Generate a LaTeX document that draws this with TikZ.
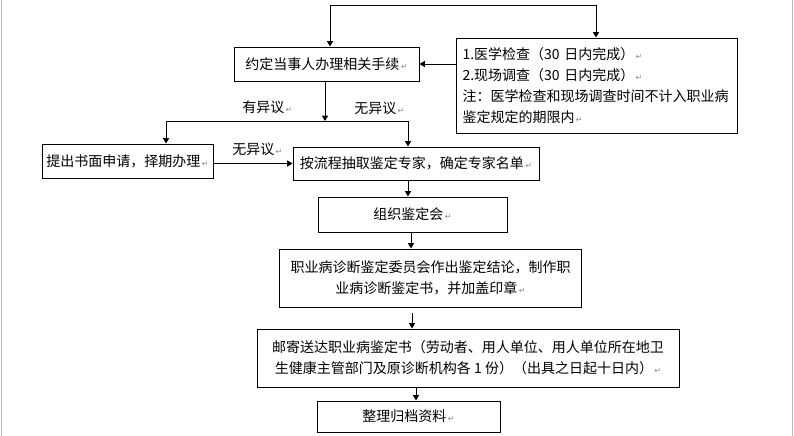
\documentclass[tikz,border=0pt]{standalone}
\usepackage{fontspec}
\setmainfont{Noto Sans CJK SC}
\newfontfamily\dvfont{DejaVu Sans}
\usetikzlibrary{arrows.meta}
\newcommand\parmark{{\dvfont\color{black!45}\fontsize{6pt}{6pt}\selectfont\,↵}}
\begin{document}
\begin{tikzpicture}[x=0.75pt,y=-0.75pt,
  box/.style={draw,line width=0.75pt,inner sep=2pt,align=center,
    font=\fontsize{10.5pt}{15.75pt}\selectfont},
  lbl/.style={inner sep=0pt,anchor=west,font=\fontsize{10.5pt}{12pt}\selectfont},
  arr/.style={line width=0.75pt,-{Triangle[length=4pt,width=4.5pt]}},
  arrb/.style={line width=0.75pt,{Triangle[length=4pt,width=4.5pt]}-{Triangle[length=4pt,width=4.5pt]}},
  ln/.style={line width=0.75pt}]
\fill[white] (0,0) rectangle (794,436);
\useasboundingbox (0,0) rectangle (794,436);
\draw[black!25,line width=0.75pt] (1,0) -- (1,436);
\draw[black!25,line width=0.75pt] (792,0) -- (792,436);

\node[box,minimum width=138.75pt,minimum height=25.5pt] (A) at (326.5,64) {约定当事人办理相关手续\parmark};
\node[box,minimum width=210.75pt,minimum height=71.25pt,text width=201pt,align=left] (R) at (596.5,85.5)
  {1.医学检查（30 日内完成）\parmark\\2.现场调查（30 日内完成）\parmark\\注：医学检查和现场调查时间不计入职业病\\鉴定规定的期限内\parmark};
\node[box,minimum width=128.25pt,minimum height=25.5pt] (B) at (127.5,161) {提出书面申请，择期办理\parmark};
\node[box,minimum width=184.5pt,minimum height=24.75pt] (C) at (416,163.5) {按流程抽取鉴定专家，确定专家名单\parmark};
\node[box,minimum width=141.75pt,minimum height=26.25pt] (D) at (412.5,214.5) {组织鉴定会\parmark};
\node[box,minimum width=226.5pt,minimum height=43.5pt] (E) at (430.5,278)
  {职业病诊断鉴定委员会作出鉴定结论，制作职\\业病诊断鉴定书，并加盖印章\parmark};
\node[box,minimum width=316.5pt,minimum height=43.5pt] (F) at (468,358)
  {邮寄送达职业病鉴定书（劳动者、用人单位、用人单位所在地卫\\生健康主管部门及原诊断机构各 1 份）（出具之日起十日内）\parmark};
\node[box,minimum width=137.25pt,minimum height=23.25pt] (G) at (408.5,416.5) {整理归档资料\parmark};

\node[lbl] (l1) at (242,107) {有异议\parmark};
\node[lbl] (l2) at (354,108) {无异议\parmark};
\node[lbl] (l3) at (232,149) {无异议\parmark};

\coordinate (tl) at (330,5);
\coordinate (tr) at (596,5);
\draw[arrb] (tl |- A.north) -- (tl) -- (tr) -- (tr |- R.north);
\draw[arr] (A.east -| R.west) -- (A.east);

\coordinate (sm) at (325,121);
\coordinate (sl) at (166,121);
\coordinate (sr) at (408,121);
\draw[arr] (sm |- A.south) -- (sm);
\draw[ln] (sl) -- (sr);
\draw[arr] (sl) -- (sl |- B.north);
\draw[arr] (sr) -- (sr |- C.north);
\draw[arr] (C.west -| B.east) -- (C.west);

\coordinate (c1) at (408,0);
\draw[arr] (c1 |- C.south) -- (c1 |- D.north);
\coordinate (c2) at (411,0);
\draw[arr] (c2 |- D.south) -- (c2 |- E.north);
\coordinate (c3) at (412,313);
\draw[arr] (c3) -- (c3 |- F.north);
\coordinate (c4) at (416,0);
\draw[arr] (c4 |- F.south) -- (c4 |- G.north);
\end{tikzpicture}
\end{document}
